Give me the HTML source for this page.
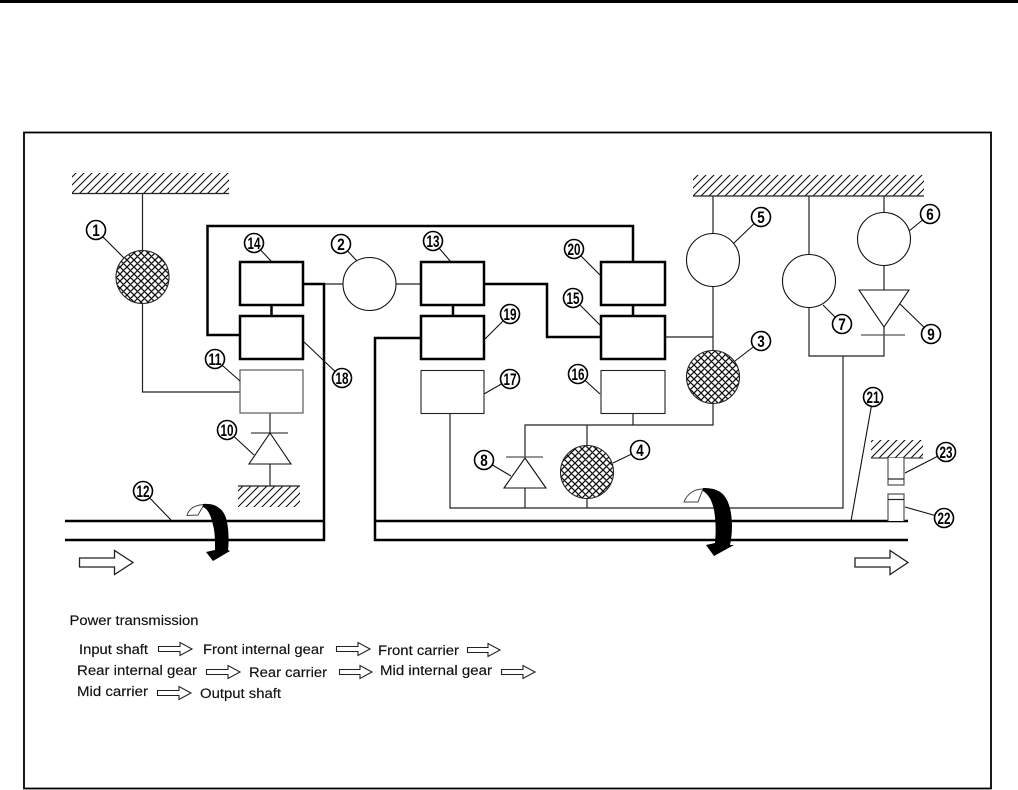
<!DOCTYPE html>
<html>
<head>
<meta charset="utf-8">
<style>
html,body{margin:0;padding:0;background:#fff;width:1018px;height:790px;overflow:hidden}
svg{display:block}
.num{font-family:"Liberation Sans",sans-serif;font-weight:bold;font-size:16.500px;text-anchor:middle;fill:#000}
.lbl{font-family:"Liberation Sans",sans-serif;font-size:13.500px;fill:#111;stroke:#111;stroke-width:.15}
</style>
</head>
<body>
<svg width="1018" height="790" viewBox="0 0 1018 790" xmlns="http://www.w3.org/2000/svg">
<defs>
<pattern id="hatch" width="8" height="8" patternUnits="userSpaceOnUse" patternTransform="translate(0,1)">
<path d="M-2,10 L10,-2 M-2,2 L2,-2 M6,10 L10,6" stroke="#111" stroke-width="1.1" fill="none"/>
</pattern>
<pattern id="cross" width="7" height="7" patternUnits="userSpaceOnUse" patternTransform="translate(1,1)">
<rect width="7" height="7" fill="#fff"/>
<path d="M-1,8 L8,-1 M-1,1 L1,-1 M6,8 L8,6 M-1,-1 L8,8 M-1,6 L1,8 M6,-1 L8,1" stroke="#111" stroke-width="1.3" fill="none"/>
</pattern>
</defs>

<rect x="0" y="0" width="1018" height="3" fill="#000"/>
<rect x="24" y="132.500" width="967" height="656" fill="none" stroke="#000" stroke-width="1.8"/>

<!-- ground hatches -->
<rect x="72" y="173" width="157" height="20" fill="url(#hatch)"/>
<path d="M72,193.500H229" stroke="#222" stroke-width="1.2"/>
<rect x="693" y="175" width="231" height="21" fill="url(#hatch)"/>
<path d="M693,196H924" stroke="#222" stroke-width="1.2"/>
<rect x="238" y="486" width="62" height="21" fill="url(#hatch)"/>
<path d="M238,486H300" stroke="#222" stroke-width="1.2"/>
<rect x="871" y="440" width="52" height="18" fill="url(#hatch)"/>
<path d="M871,458H923" stroke="#444" stroke-width="1.2"/>

<!-- thin lines -->
<g fill="none" stroke="#222" stroke-width="1.2">
<path d="M142.500,193V392H240"/>
<path d="M324,284H343M396,284H421"/>
<path d="M270,413V433M270,464V486"/>
<path d="M665,337H713M713,196V234M713,286V351M713,403V425H525V457M525,488V508"/>
<path d="M633,413V425M587,425V446M587,498V508"/>
<path d="M450,413V508H843V356M809,196V255M809,307V356H884V327M884,196V213M884,265V290"/>
<path d="M251,433H288" stroke="#444" stroke-width="1.3"/>
<path d="M506,457H543" stroke="#555" stroke-width="1.3"/>
<path d="M861,335H905" stroke="#555" stroke-width="1.3"/>
</g>

<!-- light boxes -->
<rect x="240" y="370" width="63" height="43" fill="#fff" stroke="#666" stroke-width="1.300"/>
<rect x="421" y="370.500" width="63" height="43" fill="#fff" stroke="#222" stroke-width="1.100"/>
<rect x="601" y="370.500" width="64" height="43" fill="#fff" stroke="#222" stroke-width="1.100"/>

<!-- thick frames and connections -->
<g fill="none" stroke="#000" stroke-width="2.500">
<path d="M240,335H207.500V226H633V262"/>
<path d="M303,284H324V540H65"/>
<path d="M65,521H324"/>
<path d="M484,284H547V337H601"/>
<path d="M421,338H375V540H908"/>
<path d="M375,521H908"/>
<path d="M271.500,305V316M453,305V316M633,305V316"/>
</g>
<g fill="#fff" stroke="#000" stroke-width="2.500">
<rect x="240" y="262" width="63" height="43"/>
<rect x="240" y="316" width="63" height="43"/>
<rect x="421" y="262" width="63" height="43"/>
<rect x="421" y="316" width="63" height="43"/>
<rect x="601" y="262" width="64" height="43"/>
<rect x="601" y="316" width="64" height="43"/>
</g>

<!-- clutches / brakes -->
<circle cx="142.500" cy="277" r="26.500" fill="url(#cross)" stroke="#222" stroke-width="1.100"/>
<circle cx="713" cy="377" r="26.500" fill="url(#cross)" stroke="#222" stroke-width="1.100"/>
<circle cx="587" cy="472" r="26.500" fill="url(#cross)" stroke="#222" stroke-width="1.100"/>
<g fill="#fff" stroke="#111" stroke-width="1.100">
<circle cx="369.500" cy="284" r="26.500"/>
<circle cx="713" cy="260" r="26.500"/>
<circle cx="809" cy="281" r="26.500"/>
<circle cx="884" cy="239" r="26.500"/>
</g>

<!-- one way clutches -->
<g fill="#fff" stroke="#111" stroke-width="1.100">
<path d="M270,433L291,464H249Z"/>
<path d="M525,458L546,488H504Z"/>
<path d="M859,290H909L884,327Z"/>
</g>

<!-- parking -->
<g fill="#fff" stroke="#555" stroke-width="1.200">
<path d="M888,458V485H904V458"/>
<path d="M888,479H904" stroke="#222"/>
<path d="M888,521V494H904V521"/>
<path d="M888,499.500H904" stroke="#222"/>
</g>

<!-- leaders -->
<g fill="none" stroke="#111" stroke-width="1.100">
<path d="M96,230L124,258M254,243L272,262M341,244L357,261M215,359L240,381M342,378L303,341"/>
<path d="M433,241L451,262M510,314L485,339M510,379L484,394M574,249L601,276M573,298L601,326M578,374L600,394"/>
<path d="M761,217L734,243M930,214L909,231M842,324L823,305M931,334L900,304M761,341L735,361M873,397L851,521"/>
<path d="M227,430L254,455M143,491L171,520M484,460L511,476M640,450L613,463M946,452L905,473M944,518L905,507"/>
</g>

<!-- numbered circles -->
<g fill="#fff" stroke="#000" stroke-width="1.600">
<circle cx="96" cy="230" r="9.500"/><circle cx="341" cy="244" r="9.500"/><circle cx="761" cy="341" r="9.500"/>
<circle cx="640" cy="450" r="9.500"/><circle cx="761" cy="217" r="9.500"/><circle cx="930" cy="214" r="9.500"/>
<circle cx="842" cy="324" r="9.500"/><circle cx="484" cy="460" r="9.500"/><circle cx="931" cy="334" r="9.500"/>
<circle cx="227" cy="430" r="9.500"/><circle cx="215" cy="359" r="9.500"/><circle cx="143" cy="491" r="9.500"/>
<circle cx="433" cy="241" r="9.500"/><circle cx="254" cy="243" r="9.500"/><circle cx="573" cy="298" r="9.500"/>
<circle cx="578" cy="374" r="9.500"/><circle cx="510" cy="379" r="9.500"/><circle cx="342" cy="378" r="9.500"/>
<circle cx="510" cy="314" r="9.500"/><circle cx="574" cy="249" r="9.500"/><circle cx="873" cy="397" r="9.500"/>
<circle cx="944" cy="518" r="9.500"/><circle cx="946" cy="452" r="9.500"/>
</g>
<g class="num">
<text x="96" y="236" textLength="7.500" lengthAdjust="spacingAndGlyphs">1</text><text x="341" y="250" textLength="7.500" lengthAdjust="spacingAndGlyphs">2</text><text x="761" y="347" textLength="7.500" lengthAdjust="spacingAndGlyphs">3</text>
<text x="640" y="456" textLength="7.500" lengthAdjust="spacingAndGlyphs">4</text><text x="761" y="223" textLength="7.500" lengthAdjust="spacingAndGlyphs">5</text><text x="930" y="220" textLength="7.500" lengthAdjust="spacingAndGlyphs">6</text>
<text x="842" y="330" textLength="7.500" lengthAdjust="spacingAndGlyphs">7</text><text x="484" y="466" textLength="7.500" lengthAdjust="spacingAndGlyphs">8</text><text x="931" y="340" textLength="7.500" lengthAdjust="spacingAndGlyphs">9</text>
<text x="227" y="436" textLength="13" lengthAdjust="spacingAndGlyphs">10</text><text x="215" y="365" textLength="13" lengthAdjust="spacingAndGlyphs">11</text><text x="143" y="497" textLength="13" lengthAdjust="spacingAndGlyphs">12</text>
<text x="433" y="247" textLength="13" lengthAdjust="spacingAndGlyphs">13</text><text x="254" y="249" textLength="13" lengthAdjust="spacingAndGlyphs">14</text><text x="573" y="304" textLength="13" lengthAdjust="spacingAndGlyphs">15</text>
<text x="578" y="380" textLength="13" lengthAdjust="spacingAndGlyphs">16</text><text x="510" y="385" textLength="13" lengthAdjust="spacingAndGlyphs">17</text><text x="342" y="384" textLength="13" lengthAdjust="spacingAndGlyphs">18</text>
<text x="510" y="320" textLength="13" lengthAdjust="spacingAndGlyphs">19</text><text x="574" y="255" textLength="13" lengthAdjust="spacingAndGlyphs">20</text><text x="873" y="403" textLength="13" lengthAdjust="spacingAndGlyphs">21</text>
<text x="944" y="524" textLength="13" lengthAdjust="spacingAndGlyphs">22</text><text x="946" y="458" textLength="13" lengthAdjust="spacingAndGlyphs">23</text>
</g>

<!-- rotation arrows -->
<path d="M187,515.500C189,508 196,505 204,504.500L198,515Z" fill="#fff" stroke="#444" stroke-width="1"/>
<path d="M203,504C212,503 222,506 226,518C229,528 229,542 228,550L230,551L213,561L206,552L215,550C215,540 215,532 213,525C211,516 208,509 203,507Z" fill="#000"/>
<path d="M684,502C687,494 694,489 703,489L698,502Z" fill="#fff" stroke="#444" stroke-width="1"/>
<path d="M703,488C713,488 722,490 727,500C733,512 733,532 730,545L734,545L714,556L706,545L715,543C716,532 716,522 714,510C712,500 708,494 703,491Z" fill="#000"/>

<!-- block arrows -->
<g fill="#fff" stroke="#222" stroke-width="1.300">
<path d="M79.500,558H114.500V550.500L133,562.500L114.500,574.500V567H79.500Z"/>
<path d="M855,558H890V550.500L908,562.500L890,574.500V567H855Z"/>
</g>
<g fill="#fff" stroke="#222" stroke-width="1.100">
<path d="M158.500,646.500H180V642.500L192,649L180,655.500V651.500H158.500Z"/>
<path d="M336.500,646.500H358V642.500L370,649L358,655.500V651.500H336.500Z"/>
<path d="M467.500,647.500H488V643.500L500,650L488,656.500V652.500H467.500Z"/>
<path d="M206.500,669.500H228V665.500L240,672L228,678.500V674.500H206.500Z"/>
<path d="M339.500,669.500H360V665.500L372,672L360,678.500V674.500H339.500Z"/>
<path d="M501.500,669.500H523V665.500L535,672L523,678.500V674.500H501.500Z"/>
<path d="M157.500,690.500H179V686.500L191,693L179,699.500V695.500H157.500Z"/>
</g>

<!-- text -->
<g class="lbl">
<text x="69.500" y="625" textLength="129" lengthAdjust="spacingAndGlyphs">Power transmission</text>
<text x="79" y="654" textLength="69" lengthAdjust="spacingAndGlyphs">Input shaft</text>
<text x="203" y="654" textLength="121" lengthAdjust="spacingAndGlyphs">Front internal gear</text>
<text x="378" y="655" textLength="81" lengthAdjust="spacingAndGlyphs">Front carrier</text>
<text x="77" y="675" textLength="120" lengthAdjust="spacingAndGlyphs">Rear internal gear</text>
<text x="249" y="677" textLength="78" lengthAdjust="spacingAndGlyphs">Rear carrier</text>
<text x="380" y="675" textLength="112" lengthAdjust="spacingAndGlyphs">Mid internal gear</text>
<text x="77" y="696" textLength="71" lengthAdjust="spacingAndGlyphs">Mid carrier</text>
<text x="200" y="698" textLength="81" lengthAdjust="spacingAndGlyphs">Output shaft</text>
</g>
</svg>
</body>
</html>
